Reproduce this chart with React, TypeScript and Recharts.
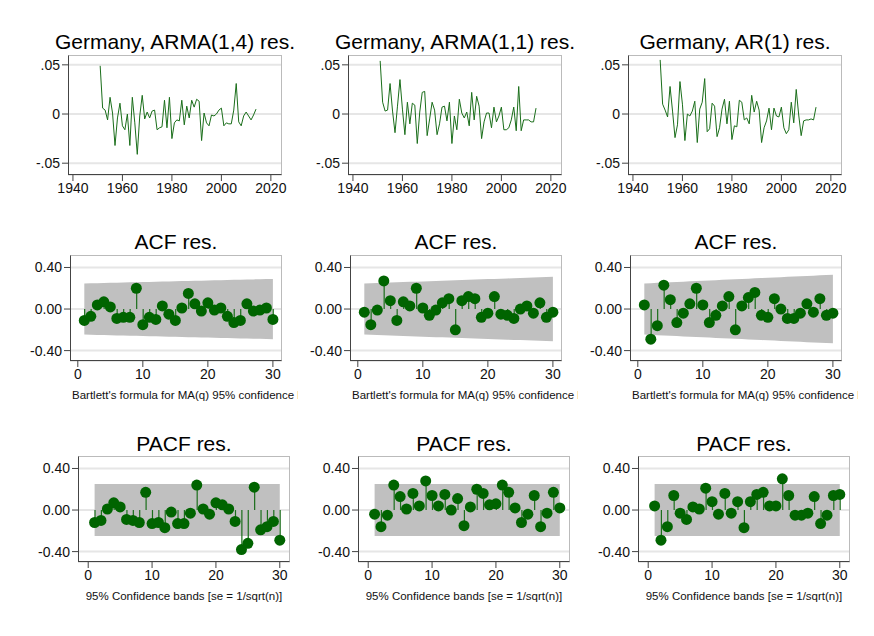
import React from 'react'
import {
  Area,
  Bar,
  CartesianGrid,
  ComposedChart,
  Line,
  LineChart,
  Scatter,
  XAxis,
  YAxis,
} from 'recharts'

const years = Array.from({ length: 64 }, (_, i) => 1951 + i)

const resArma14 = [
  0.049, 0.006, 0.004, -0.006, 0.017, 0.001, -0.032, -0.004, 0.011, -0.012,
  -0.016, 0.0, -0.032, 0.017, -0.009, -0.041, -0.002, 0.019, -0.005, 0.002,
  -0.004, 0.003, 0.004, -0.016, -0.014, -0.013, 0.014, -0.014, 0.017, -0.025,
  -0.009, -0.006, -0.007, 0.014, -0.011, 0.008, -0.004, 0.014, 0.007, 0.015,
  0.013, -0.027, 0.001, -0.009, -0.012, -0.001, -0.002, 0.0, 0.004, 0.006,
  -0.012, -0.009, -0.01, -0.01, 0.004, 0.031, -0.008, -0.012, -0.002, 0.002,
  -0.002, -0.006, -0.001, 0.005,
]
const resArma11 = [
  0.054, 0.012, 0.003, 0.004, 0.031, 0.003, -0.019, 0.008, 0.035, 0.005,
  -0.021, 0.012, -0.01, 0.011, 0.009, -0.03, 0.002, 0.022, 0.023, -0.022,
  -0.005, 0.012, 0.004, -0.021, -0.01, 0.007, 0.008, -0.007, 0.012, -0.03,
  -0.002, -0.016, 0.015, 0.001, -0.004, 0.002, -0.012, 0.022, -0.006, 0.018,
  0.008, -0.025, -0.008, 0.001, 0.001, -0.014, 0.007, -0.008, -0.002, 0.007,
  -0.016, -0.016, -0.014, -0.006, 0.007, -0.017, 0.028, -0.017, -0.006, -0.006,
  -0.006, -0.008, -0.008, 0.006,
]
const resAr1 = [
  0.055, 0.01, 0.004, -0.003, 0.028, 0.003, -0.024, -0.011, 0.033, 0.01,
  -0.027, 0.0, -0.002, 0.003, 0.013, -0.029, 0.005, 0.012, 0.036, -0.018,
  -0.015, 0.011, 0.008, -0.023, -0.014, 0.005, 0.015, -0.01, 0.013, -0.026,
  -0.012, -0.013, 0.014, 0.012, -0.006, -0.004, -0.01, 0.019, 0.002, 0.013,
  0.004, -0.029, -0.014, -0.007, 0.006, -0.016, 0.006, -0.002, -0.003, 0.007,
  -0.014, -0.02, -0.016, 0.012, -0.009, 0.025, -0.001, -0.022, -0.007, -0.006,
  -0.006, -0.005, -0.006, 0.007,
]

const lags = Array.from({ length: 30 }, (_, i) => i + 1)

const acf1 = [-0.11, -0.07, 0.04, 0.07, 0.02, -0.09, -0.08, -0.08, 0.2, -0.15, -0.08, -0.1, 0.03, -0.05, -0.11, 0.01, 0.15, 0.05, -0.02, 0.06, -0.01, 0.01, -0.07, -0.13, -0.11, 0.05, -0.02, -0.01, 0.01, -0.1]
const acf2 = [-0.03, -0.15, -0.01, 0.27, 0.08, -0.11, 0.07, 0.03, 0.2, 0.01, -0.06, -0.01, 0.06, 0.1, -0.2, 0.08, 0.12, 0.1, -0.08, -0.04, 0.12, -0.05, -0.06, -0.09, 0.0, 0.03, -0.04, 0.06, -0.08, -0.03]
const acf3 = [0.04, -0.29, -0.16, 0.23, 0.09, -0.13, -0.04, 0.05, 0.2, 0.04, -0.13, -0.06, 0.03, 0.12, -0.2, 0.03, 0.11, 0.16, -0.06, -0.08, 0.1, 0.0, -0.09, -0.09, -0.04, 0.05, -0.03, 0.1, -0.06, -0.04]
// Bartlett band half-widths at lag 1 and lag 30 (grows slowly)
const acfBand1 = [0.246, 0.29]
const acfBand2 = [0.246, 0.31]
const acfBand3 = [0.246, 0.33]

const pacf1 = [-0.12, -0.1, 0.01, 0.07, 0.03, -0.09, -0.1, -0.12, 0.17, -0.13, -0.12, -0.17, -0.02, -0.13, -0.13, -0.03, 0.24, 0.01, -0.04, 0.07, 0.05, 0.01, -0.11, -0.38, -0.32, 0.22, -0.19, -0.16, -0.11, -0.29]
const pacf2 = [-0.04, -0.16, -0.05, 0.24, 0.13, 0.01, 0.16, 0.04, 0.28, 0.14, 0.04, 0.15, 0.0, 0.11, -0.15, 0.03, 0.2, 0.16, 0.05, 0.06, 0.24, 0.17, 0.02, -0.12, -0.04, 0.14, -0.16, -0.03, 0.17, 0.02]
const pacf3 = [0.04, -0.29, -0.16, 0.14, -0.03, -0.09, 0.03, 0.01, 0.21, 0.08, -0.04, 0.16, -0.03, 0.08, -0.17, 0.08, 0.15, 0.17, 0.04, 0.04, 0.3, 0.14, -0.05, -0.05, -0.03, 0.13, -0.13, -0.05, 0.14, 0.15]
const pacfBand = 0.25

const yearTicks = [1940, 1960, 1980, 2000, 2020]
const resTicks = [-0.05, 0, 0.05]
const corrTicks = [-0.4, 0, 0.4]
const lagTicks = [0, 10, 20, 30]

const FONT = "'Liberation Sans Narrow', 'Liberation Sans', Arial, sans-serif"
const GREEN = '#006400'
const YW = 46
const RM = 16

const fmtRes = (v: number) => (v === 0 ? '0' : v > 0 ? '.05' : '-.05')
const fmtCorr = (v: number) => v.toFixed(2)

function Frame({ left, top, w, h }: any) {
  return (
    <div
      style={{
        position: 'absolute', left, top, width: w, height: h,
        border: '1px solid #444', borderTopColor: '#bbb', borderRightColor: '#bbb',
        boxSizing: 'border-box', pointerEvents: 'none',
      }}
    />
  )
}

function Title({ left, w, top, text }: any) {
  return (
    <div style={{ position: 'absolute', left: left - 40, width: w + 80, top, textAlign: 'center', fontSize: 21, fontFamily: FONT }}>
      {text}
    </div>
  )
}

function ResPanel({ left, title, values }: any) {
  const data = years.map((y, i) => ({ year: y, res: values[i] }))
  const w = 214
  const h = 120
  const top = 55
  return (
    <>
      <Title left={left} w={w} top={30} text={title} />
      <div style={{ position: 'absolute', left: left - YW, top }}>
        <LineChart width={YW + w + RM} height={h + 30} data={data} margin={{ top: 0, right: RM, left: 0, bottom: 0 }}>
          <CartesianGrid vertical={false} stroke="#e6e6e6" strokeWidth={2} />
          <XAxis dataKey="year" type="number" domain={[1938, 2024.5]} ticks={yearTicks} height={30}
            tick={{ fill: '#111', fontSize: 14, fontFamily: FONT }} tickLine={{ stroke: '#444' }} axisLine={false} />
          <YAxis type="number" domain={[-0.062, 0.06]} ticks={resTicks} tickFormatter={fmtRes} width={YW}
            tick={{ fill: '#111', fontSize: 14, fontFamily: FONT }} tickLine={{ stroke: '#444' }} axisLine={false} />
          <Line dataKey="res" stroke="#1a6e1a" strokeWidth={1} dot={false} isAnimationActive={false} type="linear" />
        </LineChart>
      </div>
      <Frame left={left} top={top} w={w} h={h} />
    </>
  )
}

const Dot = (props: any) => {
  const { cx, cy } = props
  if (cx == null || cy == null) return null
  return <circle cx={cx} cy={cy} r={5.5} fill={GREEN} />
}

function CorrPanel({ left, top, titleTop, title, values, band, note, noteCenter, xDomain }: any) {
  const w = 212
  const h = 106
  const data = lags.map((lag, i) => {
    const b = band[0] + ((band[1] - band[0]) * i) / 29
    return { lag, v: values[i], band: [-b, b] }
  })
  return (
    <>
      <Title left={left} w={w} top={titleTop} text={title} />
      <div style={{ position: 'absolute', left: left - YW, top }}>
        <ComposedChart width={YW + w + RM} height={h + 30} data={data} margin={{ top: 0, right: RM, left: 0, bottom: 0 }}>
          <CartesianGrid vertical={false} stroke="#e6e6e6" strokeWidth={2} />
          <XAxis dataKey="lag" type="number" domain={xDomain} ticks={lagTicks} height={30}
            tick={{ fill: '#111', fontSize: 14, fontFamily: FONT }} tickLine={{ stroke: '#444' }} axisLine={false} />
          <YAxis type="number" domain={[-0.5, 0.52]} ticks={corrTicks} tickFormatter={fmtCorr} width={YW}
            tick={{ fill: '#111', fontSize: 14, fontFamily: FONT }} tickLine={{ stroke: '#444' }} axisLine={false} />
          <Area dataKey="band" type="linear" fill="#c0c0c0" fillOpacity={1} stroke="none" isAnimationActive={false} />
          <Bar dataKey="v" barSize={1.2} fill="#1a6e1a" isAnimationActive={false} />
          <Scatter dataKey="v" shape={Dot} isAnimationActive={false} />
        </ComposedChart>
      </div>
      <Frame left={left} top={top} w={w} h={h} />
      <div
        style={{
          position: 'absolute', top: top + h + 28, fontSize: 11.5, fontFamily: FONT, color: '#111',
          whiteSpace: 'nowrap', overflow: 'hidden',
          ...(noteCenter ? { left: left - 20, width: w + 40, textAlign: 'center' } : { left: left + 2, width: 226 }),
        }}
      >
        {note}
      </div>
    </>
  )
}

const cols = [68, 348, 628]
const bartlett = "Bartlett's formula for MA(q) 95% confidence bands"
const pacfNote = '95% Confidence bands [se = 1/sqrt(n)]'

export default function App() {
  return (
    <div style={{ position: 'fixed', left: 0, top: 0, width: 874, height: 636, background: '#fff', overflow: 'hidden' }}>
      <ResPanel left={cols[0]} title="Germany, ARMA(1,4) res." values={resArma14} />
      <ResPanel left={cols[1]} title="Germany, ARMA(1,1) res." values={resArma11} />
      <ResPanel left={cols[2]} title="Germany, AR(1) res." values={resAr1} />

      <CorrPanel left={cols[0] + 2} top={255} titleTop={230} title="ACF res." values={acf1} band={acfBand1} note={bartlett} xDomain={[-1.2, 31.4]} />
      <CorrPanel left={cols[1] + 2} top={255} titleTop={230} title="ACF res." values={acf2} band={acfBand2} note={bartlett} xDomain={[-1.2, 31.4]} />
      <CorrPanel left={cols[2] + 2} top={255} titleTop={230} title="ACF res." values={acf3} band={acfBand3} note={bartlett} xDomain={[-1.2, 31.4]} />

      <CorrPanel left={cols[0] + 10} top={456} titleTop={432} title="PACF res." values={pacf1} band={[pacfBand, pacfBand]} note={pacfNote} noteCenter xDomain={[-1.6, 31.6]} />
      <CorrPanel left={cols[1] + 10} top={456} titleTop={432} title="PACF res." values={pacf2} band={[pacfBand, pacfBand]} note={pacfNote} noteCenter xDomain={[-1.6, 31.6]} />
      <CorrPanel left={cols[2] + 10} top={456} titleTop={432} title="PACF res." values={pacf3} band={[pacfBand, pacfBand]} note={pacfNote} noteCenter xDomain={[-1.6, 31.6]} />
    </div>
  )
}
